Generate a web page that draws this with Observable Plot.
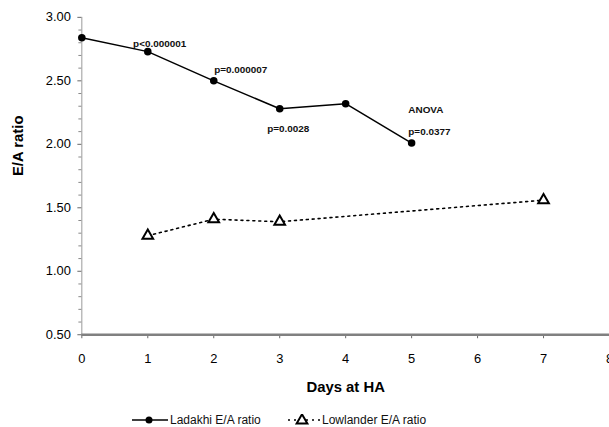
<!DOCTYPE html>
<html><head><meta charset="utf-8">
<script src="https://cdn.jsdelivr.net/npm/d3@7"></script>
<script src="https://cdn.jsdelivr.net/npm/@observablehq/plot@0.6"></script>
<style>
body{margin:0;overflow:hidden;background:#fff;font-family:"Liberation Sans",Arial,sans-serif;width:609px;height:427px;}
#chart svg{display:block;}
#legend{position:relative;height:17px;margin-top:5px;font-size:12px;color:#111;}
.item{position:absolute;top:0;display:flex;align-items:center;height:17px;white-space:nowrap;}
.item svg{display:block;margin-right:2px;}
</style></head><body><div id="chart"></div><div id="legend"></div>
<script>
const ladakhiDays = [0, 1, 2, 3, 4, 5];
const ladakhiValues = [2.84, 2.73, 2.50, 2.28, 2.32, 2.01];
const lowlanderDays = [1, 2, 3, 7];
const lowlanderValues = [1.28, 1.41, 1.39, 1.56];
const xTicks = [0, 1, 2, 3, 4, 5, 6, 7, 8];
const yTicks = [0.5, 1.0, 1.5, 2.0, 2.5, 3.0];
const yMinorTicks = [0.6, 0.7, 0.8, 0.9, 1.1, 1.2, 1.3, 1.4, 1.6, 1.7, 1.8, 1.9, 2.1, 2.2, 2.3, 2.4, 2.6, 2.7, 2.8, 2.9];
const noteLabels = ["p<0.000001", "p=0.000007", "p=0.0028", "ANOVA", "p=0.0377"];
const noteDays = [1.18, 2.41, 3.13, 4.95, 4.95];
const noteValues = [2.79, 2.59, 2.125, 2.27, 2.10];
const noteAnchors = ["middle", "middle", "middle", "start", "start"];
const seriesNames = ["Ladakhi E/A ratio", "Lowlander E/A ratio"];
const xTitle = "Days at HA";
const yTitle = "E/A ratio";

const ladakhi = ladakhiDays.map((d, i) => ({day: d, value: ladakhiValues[i]}));
const lowlander = lowlanderDays.map((d, i) => ({day: d, value: lowlanderValues[i]}));
const notes = noteLabels.map((t, i) => ({text: t, day: noteDays[i], value: noteValues[i], anchor: noteAnchors[i]}));

const font = "'Liberation Sans', Arial, sans-serif";
const chart = Plot.plot({
  width: 614, height: 410,
  marginLeft: 82, marginRight: 0, marginTop: 17, marginBottom: 73,
  style: {fontFamily: font, fontSize: "13px", color: "#000", background: "#fff", overflow: "visible"},
  x: {domain: [0, 8]},
  y: {domain: [0.5, 3]},
  marks: [
    Plot.ruleX([0], {stroke: "#999", strokeWidth: 1}),
    Plot.axisY({ticks: yMinorTicks, tickSize: 3, tickFormat: () => "", label: null, stroke: "#888"}),
    Plot.axisY({ticks: yTicks, tickSize: 4, tickPadding: 7, tickFormat: d => d.toFixed(2), label: null, stroke: "#666", fill: "#000", fontSize: 13}),
    Plot.axisX({ticks: xTicks, tickSize: 4, tickPadding: 15, tickFormat: d => String(d), label: null, stroke: "#666", fill: "#000", fontSize: 13}),
    Plot.ruleY([0.5], {stroke: "#808080", strokeWidth: 2.5}),
    Plot.text([yTitle], {text: d => d, frameAnchor: "left", rotate: -90, dx: -64, fontWeight: "bold", fontSize: 15, fill: "#000"}),
    Plot.text([xTitle], {text: d => d, frameAnchor: "bottom", dy: 58, fontWeight: "bold", fontSize: 15, fill: "#000"}),
    Plot.line(lowlander, {x: "day", y: "value", stroke: "#000", strokeWidth: 1.6, strokeDasharray: "2,4"}),
    Plot.dot(lowlander, {x: "day", y: "value", symbol: "triangle", r: 4, stroke: "#000", strokeWidth: 2, fill: "#fff"}),
    Plot.line(ladakhi, {x: "day", y: "value", stroke: "#000", strokeWidth: 1.5}),
    Plot.dot(ladakhi, {x: "day", y: "value", r: 3.8, fill: "#000", stroke: "none"}),
    Plot.text(notes.filter(d => d.anchor === "middle"), {x: "day", y: "value", text: "text", textAnchor: "middle", fontWeight: "bold", fontSize: 10, fill: "#111"}),
    Plot.text(notes.filter(d => d.anchor === "start"), {x: "day", y: "value", text: "text", textAnchor: "start", fontWeight: "bold", fontSize: 10, fill: "#111"})
  ]
});
document.getElementById("chart").appendChild(chart);

// Legend
const legend = d3.select("#legend");
const item1 = legend.append("div").attr("class", "item").style("left", "132px");
const s1 = item1.append("svg").attr("width", 36).attr("height", 12);
s1.append("line").attr("x1", 0).attr("x2", 36).attr("y1", 6).attr("y2", 6).attr("stroke", "#000").attr("stroke-width", 1.5);
s1.append("circle").attr("cx", 17).attr("cy", 6).attr("r", 3.5).attr("fill", "#000");
item1.append("span").text(seriesNames[0]);
const item2 = legend.append("div").attr("class", "item").style("left", "288px");
const s2 = item2.append("svg").attr("width", 32).attr("height", 12);
s2.append("line").attr("x1", 0).attr("x2", 32).attr("y1", 6).attr("y2", 6).attr("stroke", "#000").attr("stroke-width", 1.5).attr("stroke-dasharray", "2,4");
s2.append("path").attr("d", d3.symbol(d3.symbolTriangle, 50)()).attr("transform", "translate(14,6.5)").attr("fill", "#fff").attr("stroke", "#000").attr("stroke-width", 2);
item2.append("span").text(seriesNames[1]);
</script>
</body></html>
